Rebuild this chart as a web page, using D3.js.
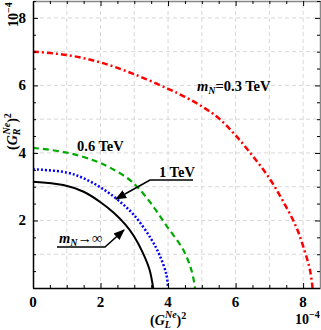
<!DOCTYPE html>
<html>
<head>
<meta charset="utf-8">
<title>G_L vs G_R bounds</title>
<script src="https://d3js.org/d3.v7.min.js"></script>
<style>
  body { margin: 0; background: #fff; }
  text { font-family: "Liberation Serif", "DejaVu Serif", serif; font-weight: bold; }
</style>
</head>
<body>
<div id="wrapper"></div>
<script>
// values in units of 1e-4
const xTicks = [0, 2, 4, 6, 8];
const yTicks = [2, 4, 6, 8];
const curveLabels = ["0.3 TeV", "0.6 TeV", "1 TeV", "inf"];

const red03 = [[0,7.0],[1,6.9],[2,6.68],[3,6.33],[4,5.9],[4.5,5.66],[5,5.38],[5.5,5.03],[6,4.52],[6.5,3.92],[7,3.25],[7.4,2.58],[7.8,1.8],[8.05,1.08],[8.2,0.55],[8.28,0]];
const green06 = [[0,4.15],[1,4.01],[2,3.7],[2.8,3.25],[3.1,2.98],[3.5,2.5],[3.95,1.85],[4.45,1.13],[4.7,0.5],[4.8,0]];
const blue1 = [[0,3.52],[1,3.42],[1.5,3.25],[2,2.98],[2.5,2.62],[3,2.15],[3.5,1.45],[3.75,0.97],[3.95,0.4],[4.0,0]];
const blackInf = [[0,3.15],[0.9,3.05],[1.5,2.85],[2.0,2.54],[2.4,2.22],[2.75,1.86],[3.0,1.52],[3.25,1.05],[3.45,0.55],[3.56,0]];

const dimensions = { width: 321, height: 330, margin: { left: 33, right: 1, top: 1, bottom: 42 } };

const svg = d3.select("#wrapper").append("svg")
  .attr("width", dimensions.width).attr("height", dimensions.height);

const xScale = d3.scaleLinear().domain([0, 8.5]).range([dimensions.margin.left, dimensions.width - dimensions.margin.right]);
const yScale = d3.scaleLinear().domain([0, 8.5]).range([dimensions.height - dimensions.margin.bottom, dimensions.margin.top]);

const x0 = xScale(0), x1 = xScale(8.5), y0 = yScale(0), y1 = yScale(8.5);

// dashed grid every unit
const grid = svg.append("g").attr("stroke", "#d8d8d8").attr("stroke-width", 1).attr("stroke-dasharray", "4,3");
d3.range(1, 9).forEach(v => {
  grid.append("line").attr("x1", xScale(v)).attr("x2", xScale(v)).attr("y1", y0).attr("y2", y1);
  grid.append("line").attr("x1", x0).attr("x2", x1).attr("y1", yScale(v)).attr("y2", yScale(v));
});

// curves
const line = d3.line().x(d => xScale(d[0])).y(d => yScale(d[1])).curve(d3.curveCatmullRom.alpha(0.5));
svg.append("path").attr("d", line(red03)).attr("fill", "none").attr("stroke", "#ff0000")
  .attr("stroke-width", 2.5).attr("stroke-dasharray", "6,3,2,3");
svg.append("path").attr("d", line(green06)).attr("fill", "none").attr("stroke", "#00aa00")
  .attr("stroke-width", 2.2).attr("stroke-dasharray", "6,4");
svg.append("path").attr("d", line(blue1)).attr("fill", "none").attr("stroke", "#0000ff")
  .attr("stroke-width", 2.5).attr("stroke-dasharray", "2,2");
svg.append("path").attr("d", line(blackInf)).attr("fill", "none").attr("stroke", "#000")
  .attr("stroke-width", 2);

// frame + ticks (inward on all sides)
const minor = d3.range(0, 8.51, 0.5);
const axisBottom = d3.axisBottom(xScale).tickValues(minor).tickSizeInner(-3).tickSizeOuter(0).tickFormat("");
const axisTop = d3.axisTop(xScale).tickValues(minor).tickSizeInner(-3).tickSizeOuter(0).tickFormat("");
const axisLeft = d3.axisLeft(yScale).tickValues(minor).tickSizeInner(-3).tickSizeOuter(0).tickFormat("");
const axisRight = d3.axisRight(yScale).tickValues(minor).tickSizeInner(-3).tickSizeOuter(0).tickFormat("");

const gb = svg.append("g").attr("transform", `translate(0,${y0})`).call(axisBottom);
const gt = svg.append("g").attr("transform", `translate(0,${y1})`).call(axisTop);
const gl = svg.append("g").attr("transform", `translate(${x0},0)`).call(axisLeft);
const gr = svg.append("g").attr("transform", `translate(${x1},0)`).call(axisRight);
[gt, gr].forEach(g => g.select(".domain").attr("stroke", "#888").attr("stroke-width", 1.5));
[gb, gl].forEach(g => g.select(".domain").attr("stroke", "#000").attr("stroke-width", 1.5));
[gb, gt].forEach(g => g.selectAll(".tick line").filter(d => d % 2 === 0).attr("y2", g === gb ? -5 : 5));
[gl, gr].forEach(g => g.selectAll(".tick line").filter(d => d % 2 === 0).attr("x2", g === gl ? 5 : -5));

// tick labels
svg.append("g").selectAll("text").data(xTicks).join("text")
  .attr("x", d => xScale(d)).attr("y", y0 + 19).attr("text-anchor", "middle")
  .attr("font-size", 15).text(d => d);
svg.append("g").selectAll("text").data(yTicks).join("text")
  .attr("x", x0 - 7).attr("y", d => yScale(d) + 5).attr("text-anchor", "end")
  .attr("font-size", 15).text(d => d);

// axis labels
const xl = svg.append("text").attr("x", 150).attr("y", 325).attr("font-size", 14);
xl.append("tspan").text("(");
xl.append("tspan").attr("font-style", "italic").text("G");
xl.append("tspan").attr("font-style", "italic").attr("font-size", 10).attr("dy", 3).text("L");
xl.append("tspan").attr("font-style", "italic").attr("font-size", 10).attr("dx", -6).attr("dy", -10).text("Ne");
xl.append("tspan").attr("dy", 7).text(")");
xl.append("tspan").attr("font-size", 10).attr("dy", -6).text("2");

const pw1 = svg.append("text").attr("x", 295).attr("y", 324).attr("font-size", 14);
pw1.append("tspan").text("10");
pw1.append("tspan").attr("font-size", 10).attr("dy", -6).text("\u22124");

const yl = svg.append("text").attr("transform", "translate(17,150) rotate(-90)").attr("font-size", 14);
yl.append("tspan").text("(");
yl.append("tspan").attr("font-style", "italic").text("G");
yl.append("tspan").attr("font-style", "italic").attr("font-size", 10).attr("dy", 3).text("R");
yl.append("tspan").attr("font-style", "italic").attr("font-size", 10).attr("dx", -6).attr("dy", -10).text("Ne");
yl.append("tspan").attr("dy", 7).text(")");
yl.append("tspan").attr("font-size", 10).attr("dy", -6).text("2");

const pw2 = svg.append("text").attr("transform", "translate(18,27) rotate(-90)").attr("font-size", 14);
pw2.append("tspan").text("10");
pw2.append("tspan").attr("font-size", 10).attr("dy", -6).text("\u22124");

// annotations
const t03 = svg.append("text").attr("x", 197).attr("y", 91).attr("font-size", 14.5);
t03.append("tspan").attr("font-style", "italic").text("m");
t03.append("tspan").attr("font-style", "italic").attr("font-size", 10).attr("dy", 3).text("N");
t03.append("tspan").attr("dy", -3).text("=" + curveLabels[0]);

svg.append("text").attr("x", 77).attr("y", 151).attr("font-size", 14.5).text(curveLabels[1]);

svg.append("text").attr("x", 159).attr("y", 177).attr("font-size", 14.5).text(curveLabels[2]);

const tinf = svg.append("text").attr("x", 59).attr("y", 243).attr("font-size", 14.5);
tinf.append("tspan").attr("font-style", "italic").text("m");
tinf.append("tspan").attr("font-style", "italic").attr("font-size", 10).attr("dy", 3).text("N");
tinf.append("tspan").attr("dy", -3).text("\u2192\u221e");

// pointer lines with arrows
const defs = svg.append("defs");
defs.append("marker").attr("id", "arrow").attr("viewBox", "0 0 10 10").attr("refX", 9).attr("refY", 5)
  .attr("markerWidth", 7).attr("markerHeight", 7).attr("orient", "auto")
  .append("path").attr("d", "M0,1 L10,5 L0,9 Z").attr("fill", "#000");

svg.append("polyline").attr("points", "193,180 150,180 116,199")
  .attr("fill", "none").attr("stroke", "#000").attr("stroke-width", 1.6).attr("marker-end", "url(#arrow)");
svg.append("polyline").attr("points", "57,247 105,247 124,230")
  .attr("fill", "none").attr("stroke", "#000").attr("stroke-width", 1.6).attr("marker-end", "url(#arrow)");
</script>
</body>
</html>
